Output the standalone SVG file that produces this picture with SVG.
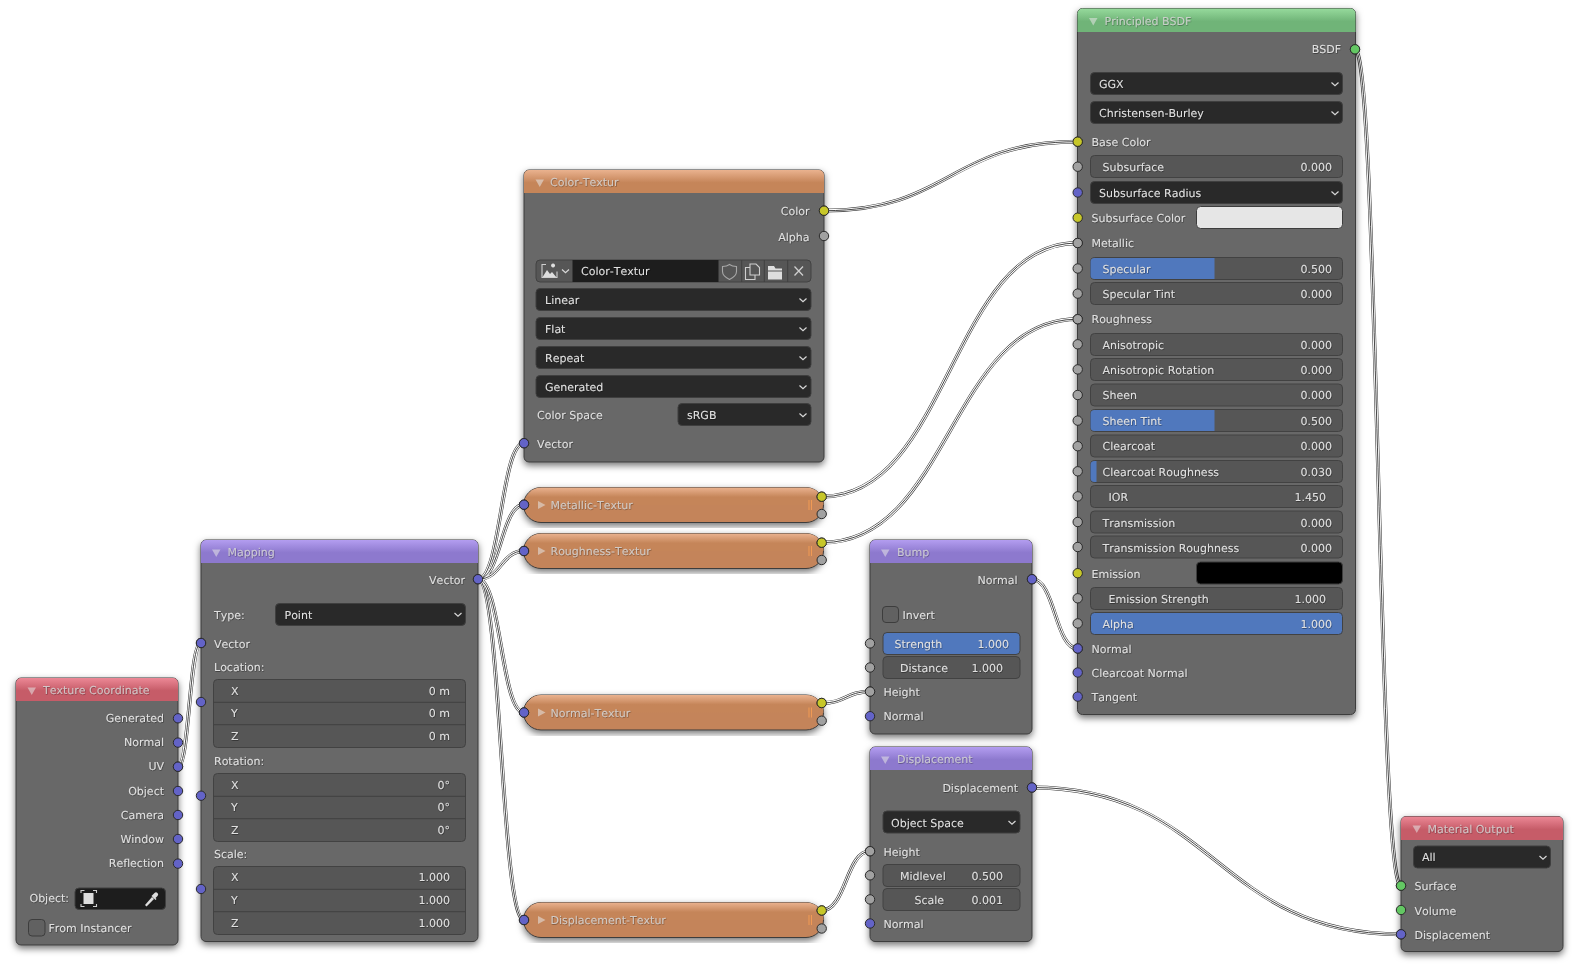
<svg xmlns="http://www.w3.org/2000/svg" width="1574" height="964" viewBox="0 0 1574 964">
<style>
text{font-family:"DejaVu Sans","Liberation Sans",sans-serif;font-size:11px;fill:#e0e0e0;filter:url(#ts);text-rendering:geometricPrecision;font-kerning:none}
.r{text-anchor:end}
.h{fill:#d6d6d6;fill-opacity:.85}
.n{fill:#676767;stroke:#3c3c3c;stroke-width:1;filter:url(#sh)}
.d{fill:#292929;stroke:#3f3f3f;stroke-width:1}
.f{fill:#565656;stroke:#424242;stroke-width:1}
.b{fill:#5078bd}
.sep{stroke:#404040;stroke-width:1;fill:none}
.s{stroke:#2b2b2b;stroke-width:1}
.y{fill:#c7c729}.g{fill:#a1a1a1}.v{fill:#6363c7}.e{fill:#63c763}
.w0{fill:none;stroke:#333;stroke-width:3.8}
.w1{fill:none;stroke:#fff;stroke-width:2.8}
.w2{fill:none;stroke:#333;stroke-width:.9}
.tri{fill:#e6e6e6;fill-opacity:.55}
.chev{fill:none;stroke:#d8d8d8;stroke-width:1.2}
.ic{fill:none;stroke:#cfcfcf;stroke-width:1.1}
.icf{fill:#dedede}
.cb{fill:none;stroke:#f09a55;stroke-width:1}
</style>
<defs>
<filter id="sh" x="-15%" y="-15%" width="130%" height="130%"><feDropShadow dx="0" dy="3" stdDeviation="3.5" flood-color="#000" flood-opacity=".55"/></filter>
<filter id="ts" x="-5%" y="-20%" width="110%" height="150%"><feDropShadow dx="0.5" dy="0.7" stdDeviation="0.4" flood-color="#000" flood-opacity=".5"/></filter>
<linearGradient id="ho" x1="0" y1="0" x2="0" y2="1"><stop offset="0" stop-color="#eab28f"/><stop offset=".55" stop-color="#c58559"/></linearGradient>
<linearGradient id="hr" x1="0" y1="0" x2="0" y2="1"><stop offset="0" stop-color="#ec8896"/><stop offset=".55" stop-color="#c65c68"/></linearGradient>
<linearGradient id="hp" x1="0" y1="0" x2="0" y2="1"><stop offset="0" stop-color="#b39df0"/><stop offset=".55" stop-color="#8d79ce"/></linearGradient>
<linearGradient id="hg" x1="0" y1="0" x2="0" y2="1"><stop offset="0" stop-color="#96da9c"/><stop offset=".55" stop-color="#70b478"/></linearGradient>
<path id="chv" class="chev" d="M-3.5-1.500 0 1.800 3.500-1.500"/>
<path id="p1" d="M178 766.700C189.300 766.700 189.300 643 201 643"/>
<path id="p2" d="M478 579.200C501 579.200 501 443.200 524 443.200"/>
<path id="p3" d="M478 579.200C501 579.200 501 504.700 524 504.700"/>
<path id="p4" d="M478 579.200C501 579.200 501 551 524 551"/>
<path id="p5" d="M478 579.200C501 579.200 501 712.500 524 712.500"/>
<path id="p6" d="M478 579.200C501 579.200 501 920 524 920"/>
<path id="p7" d="M824 210.700C950 210.700 950 141.700 1077.700 141.700"/>
<path id="p8" d="M821.700 496.700C950 496.700 950 243 1077.700 243"/>
<path id="p9" d="M821.700 542.700C950 542.700 950 319.200 1077.700 319.200"/>
<path id="p10" d="M821.700 703C846 703 846 691.600 870 691.600"/>
<path id="p11" d="M1032 579.200C1055 579.200 1055 648.500 1077.700 648.500"/>
<path id="p12" d="M821.700 910.500C846 910.500 846 851.200 870 851.200"/>
<path id="p13" d="M1032 787.500C1216 787.500 1216 934.300 1401 934.300"/>
<path id="p14" d="M1355 49.300C1378 49.300 1378 885.700 1401 885.700"/>
</defs>
<rect width="1574" height="964" fill="#fff"/>

<g id="node-texture-coordinate">
<rect class="n" x="16" y="678" width="162" height="267" rx="5"/>
<path d="M16 701V683a5 5 0 0 1 5-5H173a5 5 0 0 1 5 5V701Z" fill="url(#hr)"/>
<path class="tri" d="M27.500 687.500h8.500l-4.250 7.500Z"/>
<text class="h" x="43" y="694">Texture Coordinate</text>
<text class="r" x="164" y="722">Generated</text>
<text class="r" x="164" y="746">Normal</text>
<text class="r" x="164" y="770">UV</text>
<text class="r" x="164" y="795">Object</text>
<text class="r" x="164" y="819">Camera</text>
<text class="r" x="164" y="843">Window</text>
<text class="r" x="164" y="867">Reflection</text>
<text class="r" x="69" y="902">Object:</text>
<rect class="d" x="75" y="888" width="90.500" height="21.500" rx="4" style="fill:#1d1d1d"/>
<path class="ic" d="M81 893v-2.500h3.500M93 890.500h3.500v2.500M96.500 904v2.500h-3.500M84.500 906.500h-3.500v-2.500"/>
<rect class="icf" x="83.500" y="893" width="10" height="11"/>
<path class="icf" d="M146 906l-1-1 7-8 2 2-7.500 7.500ZM152.500 895l2-2a2 2 0 0 1 3 3l-2 2 1 1-1 1-4-4 1-1Z"/>
<rect x="28.500" y="919.500" width="16.500" height="16.500" rx="3.500" fill="#616161" stroke="#3d3d3d"/>
<text x="48.500" y="932">From Instancer</text>
<circle class="s v" cx="178" cy="718.300" r="4.700"/>
<circle class="s v" cx="178" cy="742.600" r="4.700"/>
<circle class="s v" cx="178" cy="766.700" r="4.700"/>
<circle class="s v" cx="178" cy="791" r="4.700"/>
<circle class="s v" cx="178" cy="815" r="4.700"/>
<circle class="s v" cx="178" cy="839" r="4.700"/>
<circle class="s v" cx="178" cy="863.600" r="4.700"/>
</g>

<g id="node-mapping">
<rect class="n" x="201" y="540" width="277" height="401.500" rx="5"/>
<path d="M201 563V545a5 5 0 0 1 5-5H473a5 5 0 0 1 5 5V563Z" fill="url(#hp)"/>
<path class="tri" d="M212 549.500h8.500l-4.250 7.500Z"/>
<text class="h" x="227.500" y="556">Mapping</text>
<text class="r" x="465" y="583.500">Vector</text>
<text x="214" y="619">Type:</text>
<rect class="d" x="275.500" y="603.500" width="190" height="22" rx="4"/>
<text x="284.500" y="619">Point</text>
<use href="#chv" x="458" y="614.500"/>
<text x="214" y="647.500">Vector</text>
<text x="214" y="671">Location:</text>
<rect class="f" x="213.500" y="679.500" width="252" height="68" rx="4"/>
<path class="sep" d="M213.500 702.300h252M213.500 724.700h252"/>
<text x="231" y="695">X</text><text class="r" x="450" y="695">0 m</text>
<text x="231" y="717">Y</text><text class="r" x="450" y="717">0 m</text>
<text x="231" y="740">Z</text><text class="r" x="450" y="740">0 m</text>
<text x="214" y="765">Rotation:</text>
<rect class="f" x="213.500" y="773.500" width="252" height="68" rx="4"/>
<path class="sep" d="M213.500 796.300h252M213.500 818.700h252"/>
<text x="231" y="789">X</text><text class="r" x="450" y="789">0°</text>
<text x="231" y="811">Y</text><text class="r" x="450" y="811">0°</text>
<text x="231" y="834">Z</text><text class="r" x="450" y="834">0°</text>
<text x="214" y="858">Scale:</text>
<rect class="f" x="213.500" y="866.500" width="252" height="68" rx="4"/>
<path class="sep" d="M213.500 889.300h252M213.500 911.700h252"/>
<text x="231" y="881">X</text><text class="r" x="450" y="881">1.000</text>
<text x="231" y="904">Y</text><text class="r" x="450" y="904">1.000</text>
<text x="231" y="926.500">Z</text><text class="r" x="450" y="926.500">1.000</text>
<circle class="s v" cx="478" cy="579.200" r="4.700"/>
<circle class="s v" cx="201" cy="643" r="4.700"/>
<circle class="s v" cx="201" cy="702" r="4.700"/>
<circle class="s v" cx="201" cy="795.700" r="4.700"/>
<circle class="s v" cx="201" cy="889" r="4.700"/>
</g>

<g id="node-color-textur">
<rect class="n" x="524" y="170" width="300" height="292" rx="5"/>
<path d="M524 193V175a5 5 0 0 1 5-5H819a5 5 0 0 1 5 5V193Z" fill="url(#ho)"/>
<path class="tri" d="M535.500 179.500h8.500l-4.250 7.500Z"/>
<text class="h" x="550" y="186">Color-Textur</text>
<text class="r" x="809.500" y="215">Color</text>
<text class="r" x="809.500" y="240.500">Alpha</text>
<rect class="f" x="536" y="260" width="275" height="22" rx="4"/>
<rect x="572.500" y="260" width="146" height="22" fill="#1d1d1d"/>
<path class="sep" d="M741.700 260v22M764.300 260v22M787.700 260v22"/>
<path class="icf" d="M542 278l5-8 3 4 2-2 5 6ZM553 263.500a2 2 0 1 0 .1 0Z"/>
<path class="ic" d="M546 264.500h-4v13h15v-6"/>
<use href="#chv" x="565.500" y="271"/>
<path d="M729.500 264.500c2 1.500 4.500 2 7 2v5c0 4-3 6-7 8-4-2-7-4-7-8v-5c2.500 0 5-.5 7-2Z" fill="none" stroke="#a8a8a8" stroke-width="1.100"/>
<path class="ic" d="M750 267.500h-4.500v12h9.500v-4M750 275v-11h6l3.500 3.500v7.500Z"/>
<path class="icf" d="M768 266h6l1.500 2.500h6.500v2h-14ZM768 271.500h14v8h-14Z"/>
<path class="ic" d="M794.500 266.500l8.500 9M803 266.500l-8.500 9" style="stroke-width:1.300"/>
<text x="581" y="274.500">Color-Textur</text>
<rect class="d" x="536" y="288.500" width="275" height="22" rx="4"/><text x="545" y="303.500">Linear</text><use href="#chv" x="803" y="300"/>
<rect class="d" x="536" y="317.500" width="275" height="22" rx="4"/><text x="545" y="332.500">Flat</text><use href="#chv" x="803" y="329"/>
<rect class="d" x="536" y="346.500" width="275" height="22" rx="4"/><text x="545" y="361.500">Repeat</text><use href="#chv" x="803" y="358"/>
<rect class="d" x="536" y="375.500" width="275" height="22" rx="4"/><text x="545" y="390.500">Generated</text><use href="#chv" x="803" y="387"/>
<text x="537" y="418.500">Color Space</text>
<rect class="d" x="678" y="403.500" width="133" height="22" rx="4"/><text x="687" y="418.500">sRGB</text><use href="#chv" x="803" y="415"/>
<text x="537" y="447.500">Vector</text>
<circle class="s y" cx="824" cy="210.700" r="4.700"/>
<circle class="s g" cx="824" cy="236" r="4.700"/>
<circle class="s v" cx="524" cy="443.200" r="4.700"/>
</g>

<g id="node-metallic-textur">
<rect class="n" x="523.500" y="487.500" width="300" height="35" rx="17.500" style="fill:#c4845a"/>
<path d="M524 505a17.500 17.500 0 0 1 17.500-17.500H806a17.500 17.500 0 0 1 17.500 17.500Z" fill="url(#ho)"/>
<path class="tri" d="M538 501v8l7.500-4Z"/>
<text class="h" x="550.500" y="509">Metallic-Textur</text>
<path class="cb" d="M809 500v10M811.500 500v10"/>
<circle class="s v" cx="524" cy="504.700" r="4.700"/>
<circle class="s y" cx="821.700" cy="496.700" r="4.700"/>
<circle class="s g" cx="821.700" cy="514" r="4.700"/>
</g>

<g id="node-roughness-textur">
<rect class="n" x="523.500" y="533.500" width="300" height="35" rx="17.500" style="fill:#c4845a"/>
<path d="M524 551a17.500 17.500 0 0 1 17.500-17.500H806a17.500 17.500 0 0 1 17.500 17.500Z" fill="url(#ho)"/>
<path class="tri" d="M538 547v8l7.500-4Z"/>
<text class="h" x="550.500" y="555">Roughness-Textur</text>
<path class="cb" d="M809 546v10M811.500 546v10"/>
<circle class="s v" cx="524" cy="551" r="4.700"/>
<circle class="s y" cx="821.700" cy="542.700" r="4.700"/>
<circle class="s g" cx="821.700" cy="560" r="4.700"/>
</g>

<g id="node-normal-textur">
<rect class="n" x="523.500" y="695" width="300" height="35" rx="17.500" style="fill:#c4845a"/>
<path d="M524 712.500a17.500 17.500 0 0 1 17.500-17.500H806a17.500 17.500 0 0 1 17.500 17.500Z" fill="url(#ho)"/>
<path class="tri" d="M538 708.500v8l7.500-4Z"/>
<text class="h" x="550.500" y="716.500">Normal-Textur</text>
<path class="cb" d="M809 707.500v10M811.500 707.500v10"/>
<circle class="s v" cx="524" cy="712.500" r="4.700"/>
<circle class="s y" cx="821.700" cy="703" r="4.700"/>
<circle class="s g" cx="821.700" cy="720.700" r="4.700"/>
</g>

<g id="node-displacement-textur">
<rect class="n" x="523.500" y="902.500" width="300" height="35" rx="17.500" style="fill:#c4845a"/>
<path d="M524 920a17.500 17.500 0 0 1 17.500-17.500H806a17.500 17.500 0 0 1 17.500 17.500Z" fill="url(#ho)"/>
<path class="tri" d="M538 916v8l7.500-4Z"/>
<text class="h" x="550.500" y="924">Displacement-Textur</text>
<path class="cb" d="M809 915v10M811.500 915v10"/>
<circle class="s v" cx="524" cy="920" r="4.700"/>
<circle class="s y" cx="821.700" cy="910.500" r="4.700"/>
<circle class="s g" cx="821.700" cy="928.500" r="4.700"/>
</g>

<g id="node-bump">
<rect class="n" x="870" y="540" width="162" height="194" rx="5"/>
<path d="M870 563V545a5 5 0 0 1 5-5H1027a5 5 0 0 1 5 5V563Z" fill="url(#hp)"/>
<path class="tri" d="M881 549.500h8.500l-4.250 7.500Z"/>
<text class="h" x="897" y="556">Bump</text>
<text class="r" x="1017.500" y="583.500">Normal</text>
<rect x="882.500" y="606.500" width="16" height="16" rx="3.500" fill="#616161" stroke="#3d3d3d"/>
<text x="902.500" y="618.500">Invert</text>
<rect class="b" x="883" y="632.500" width="137" height="22" rx="4" stroke="#424242"/>
<text x="894.500" y="647.500">Strength</text><text class="r" x="1009" y="647.500">1.000</text>
<rect class="f" x="883" y="656.500" width="137" height="22" rx="4"/>
<text x="900" y="671.500">Distance</text><text class="r" x="1003" y="671.500">1.000</text>
<text x="883.500" y="696">Height</text>
<text x="883.500" y="720">Normal</text>
<circle class="s v" cx="1032" cy="579.200" r="4.700"/>
<circle class="s g" cx="870" cy="643.400" r="4.700"/>
<circle class="s g" cx="870" cy="667.500" r="4.700"/>
<circle class="s g" cx="870" cy="691.600" r="4.700"/>
<circle class="s v" cx="870" cy="716.200" r="4.700"/>
</g>

<g id="node-displacement">
<rect class="n" x="870" y="747" width="162" height="194.500" rx="5"/>
<path d="M870 770V752a5 5 0 0 1 5-5H1027a5 5 0 0 1 5 5V770Z" fill="url(#hp)"/>
<path class="tri" d="M881 756.500h8.500l-4.250 7.500Z"/>
<text class="h" x="897" y="763">Displacement</text>
<text class="r" x="1018" y="792">Displacement</text>
<rect class="d" x="883" y="811" width="137" height="22" rx="4"/>
<text x="891" y="826.500">Object Space</text><use href="#chv" x="1012" y="822.500"/>
<text x="883.500" y="855.500">Height</text>
<rect class="f" x="883" y="864.500" width="137" height="22" rx="4"/>
<text x="900" y="879.500">Midlevel</text><text class="r" x="1003" y="879.500">0.500</text>
<rect class="f" x="883" y="888.500" width="137" height="22" rx="4"/>
<text x="914.500" y="903.500">Scale</text><text class="r" x="1003" y="903.500">0.001</text>
<text x="883.500" y="927.500">Normal</text>
<circle class="s v" cx="1032" cy="787.500" r="4.700"/>
<circle class="s g" cx="870" cy="851.200" r="4.700"/>
<circle class="s g" cx="870" cy="875.300" r="4.700"/>
<circle class="s g" cx="870" cy="899.400" r="4.700"/>
<circle class="s v" cx="870" cy="923.500" r="4.700"/>
</g>

<g id="node-principled-bsdf">
<rect class="n" x="1077.500" y="8.500" width="278" height="706" rx="5"/>
<path d="M1077.500 32V13.500a5 5 0 0 1 5-5H1350.500a5 5 0 0 1 5 5V32Z" fill="url(#hg)"/>
<path class="tri" d="M1089 18h8.500l-4.250 7.500Z"/>
<text class="h" x="1104.500" y="25">Principled BSDF</text>
<text class="r" x="1341" y="53">BSDF</text>
<rect class="d" x="1090.500" y="72.500" width="252" height="22" rx="4"/><text x="1099" y="87.500">GGX</text><use href="#chv" x="1335" y="84"/>
<rect class="d" x="1090.500" y="101.500" width="252" height="22" rx="4"/><text x="1099" y="116.500">Christensen-Burley</text><use href="#chv" x="1335" y="113"/>
<text x="1091.500" y="145.500">Base Color</text>
<rect class="f" x="1090.500" y="155.500" width="252" height="22" rx="4"/><text x="1102.500" y="170.500">Subsurface</text><text class="r" x="1332" y="170.500">0.000</text>
<rect class="d" x="1090.500" y="181.500" width="252" height="22" rx="4"/><text x="1099" y="196.500">Subsurface Radius</text><use href="#chv" x="1335" y="193"/>
<text x="1091.500" y="221.500">Subsurface Color</text>
<rect x="1196.500" y="206.500" width="146" height="22" rx="4" fill="#e6e6e6" stroke="#3d3d3d"/>
<text x="1091.500" y="247">Metallic</text>
<rect class="f" x="1090.500" y="257.500" width="252" height="22" rx="4"/><path class="b" d="M1214.500 258H1094.500a4 4 0 0 0-4 4V275a4 4 0 0 0 4 4H1214.500Z"/><text x="1102.500" y="272.500">Specular</text><text class="r" x="1332" y="272.500">0.500</text>
<rect class="f" x="1090.500" y="282.500" width="252" height="22" rx="4"/><text x="1102.500" y="297.500">Specular Tint</text><text class="r" x="1332" y="297.500">0.000</text>
<text x="1091.500" y="323">Roughness</text>
<rect class="f" x="1090.500" y="333.500" width="252" height="22" rx="4"/><text x="1102.500" y="348.500">Anisotropic</text><text class="r" x="1332" y="348.500">0.000</text>
<rect class="f" x="1090.500" y="358.500" width="252" height="22" rx="4"/><text x="1102.500" y="373.500">Anisotropic Rotation</text><text class="r" x="1332" y="373.500">0.000</text>
<rect class="f" x="1090.500" y="384" width="252" height="22" rx="4"/><text x="1102.500" y="399">Sheen</text><text class="r" x="1332" y="399">0.000</text>
<rect class="f" x="1090.500" y="409.500" width="252" height="22" rx="4"/><path class="b" d="M1214.500 410H1094.500a4 4 0 0 0-4 4V427a4 4 0 0 0 4 4H1214.500Z"/><text x="1102.500" y="424.500">Sheen Tint</text><text class="r" x="1332" y="424.500">0.500</text>
<rect class="f" x="1090.500" y="435" width="252" height="22" rx="4"/><text x="1102.500" y="450">Clearcoat</text><text class="r" x="1332" y="450">0.000</text>
<rect class="f" x="1090.500" y="460.500" width="252" height="22" rx="4"/><path class="b" d="M1096.500 461H1094.500a4 4 0 0 0-4 4V478a4 4 0 0 0 4 4H1096.500Z"/><text x="1102.500" y="475.500">Clearcoat Roughness</text><text class="r" x="1332" y="475.500">0.030</text>
<rect class="f" x="1090.500" y="485.500" width="252" height="22" rx="4"/><text x="1108.500" y="500.500">IOR</text><text class="r" x="1326" y="500.500">1.450</text>
<rect class="f" x="1090.500" y="511" width="252" height="22" rx="4"/><text x="1102.500" y="526.500">Transmission</text><text class="r" x="1332" y="526.500">0.000</text>
<rect class="f" x="1090.500" y="536" width="252" height="22" rx="4"/><text x="1102.500" y="551.500">Transmission Roughness</text><text class="r" x="1332" y="551.500">0.000</text>
<text x="1091.500" y="577.500">Emission</text>
<rect x="1196.500" y="562" width="146" height="22" rx="4" fill="#000" stroke="#3d3d3d"/>
<rect class="f" x="1090.500" y="587.500" width="252" height="22" rx="4"/><text x="1108.500" y="602.500">Emission Strength</text><text class="r" x="1326" y="602.500">1.000</text>
<rect class="b" x="1090.500" y="612.500" width="252" height="22" rx="4" stroke="#424242"/><text x="1102.500" y="627.500">Alpha</text><text class="r" x="1332" y="627.500">1.000</text>
<text x="1091.500" y="652.500">Normal</text>
<text x="1091.500" y="676.500">Clearcoat Normal</text>
<text x="1091.500" y="700.500">Tangent</text>
<circle class="s e" cx="1355" cy="49.300" r="4.700"/>
<circle class="s y" cx="1077.700" cy="141.700" r="4.700"/>
<circle class="s g" cx="1077.700" cy="166.700" r="4.700"/>
<circle class="s v" cx="1077.700" cy="192.500" r="4.700"/>
<circle class="s y" cx="1077.700" cy="217.700" r="4.700"/>
<circle class="s g" cx="1077.700" cy="243" r="4.700"/>
<circle class="s g" cx="1077.700" cy="268.500" r="4.700"/>
<circle class="s g" cx="1077.700" cy="293.600" r="4.700"/>
<circle class="s g" cx="1077.700" cy="319.200" r="4.700"/>
<circle class="s g" cx="1077.700" cy="344.300" r="4.700"/>
<circle class="s g" cx="1077.700" cy="369.400" r="4.700"/>
<circle class="s g" cx="1077.700" cy="395" r="4.700"/>
<circle class="s g" cx="1077.700" cy="420.600" r="4.700"/>
<circle class="s g" cx="1077.700" cy="446.200" r="4.700"/>
<circle class="s g" cx="1077.700" cy="471.300" r="4.700"/>
<circle class="s g" cx="1077.700" cy="496.400" r="4.700"/>
<circle class="s g" cx="1077.700" cy="522" r="4.700"/>
<circle class="s g" cx="1077.700" cy="547" r="4.700"/>
<circle class="s y" cx="1077.700" cy="573.200" r="4.700"/>
<circle class="s g" cx="1077.700" cy="598.300" r="4.700"/>
<circle class="s g" cx="1077.700" cy="623.400" r="4.700"/>
<circle class="s v" cx="1077.700" cy="648.500" r="4.700"/>
<circle class="s v" cx="1077.700" cy="672.500" r="4.700"/>
<circle class="s v" cx="1077.700" cy="696.600" r="4.700"/>
</g>

<g id="node-material-output">
<rect class="n" x="1401" y="816.500" width="162" height="135" rx="5"/>
<path d="M1401 840V821.500a5 5 0 0 1 5-5H1558a5 5 0 0 1 5 5V840Z" fill="url(#hr)"/>
<path class="tri" d="M1412.500 825.500h8.500l-4.250 7.500Z"/>
<text class="h" x="1427.500" y="833">Material Output</text>
<rect class="d" x="1413.500" y="846" width="137" height="22" rx="4"/>
<text x="1422" y="861">All</text><use href="#chv" x="1543" y="857.500"/>
<text x="1414.500" y="890">Surface</text>
<text x="1414.500" y="914.500">Volume</text>
<text x="1414.500" y="938.500">Displacement</text>
<circle class="s e" cx="1401" cy="885.700" r="4.700"/>
<circle class="s e" cx="1401" cy="910" r="4.700"/>
<circle class="s v" cx="1401" cy="934.300" r="4.700"/>
</g>

<g id="connectors">
<g class="w0"><use href="#p1"/><use href="#p2"/><use href="#p3"/><use href="#p4"/><use href="#p5"/><use href="#p6"/><use href="#p7"/><use href="#p8"/><use href="#p9"/><use href="#p10"/><use href="#p11"/><use href="#p12"/><use href="#p13"/><use href="#p14"/></g>
<g class="w1"><use href="#p1"/><use href="#p2"/><use href="#p3"/><use href="#p4"/><use href="#p5"/><use href="#p6"/><use href="#p7"/><use href="#p8"/><use href="#p9"/><use href="#p10"/><use href="#p11"/><use href="#p12"/><use href="#p13"/><use href="#p14"/></g>
<g class="w2"><use href="#p1"/><use href="#p2"/><use href="#p3"/><use href="#p4"/><use href="#p5"/><use href="#p6"/><use href="#p7"/><use href="#p8"/><use href="#p9"/><use href="#p10"/><use href="#p11"/><use href="#p12"/><use href="#p13"/><use href="#p14"/></g>
</g>

<g id="socket-overlay">
<circle class="s v" cx="178" cy="766.700" r="4.700"/>
<circle class="s v" cx="201" cy="643" r="4.700"/>
<circle class="s v" cx="478" cy="579.200" r="4.700"/>
<circle class="s v" cx="524" cy="443.200" r="4.700"/>
<circle class="s v" cx="524" cy="504.700" r="4.700"/>
<circle class="s v" cx="524" cy="551" r="4.700"/>
<circle class="s v" cx="524" cy="712.500" r="4.700"/>
<circle class="s v" cx="524" cy="920" r="4.700"/>
<circle class="s y" cx="824" cy="210.700" r="4.700"/>
<circle class="s y" cx="821.700" cy="496.700" r="4.700"/>
<circle class="s y" cx="821.700" cy="542.700" r="4.700"/>
<circle class="s y" cx="821.700" cy="703" r="4.700"/>
<circle class="s y" cx="821.700" cy="910.500" r="4.700"/>
<circle class="s y" cx="1077.700" cy="141.700" r="4.700"/>
<circle class="s g" cx="1077.700" cy="243" r="4.700"/>
<circle class="s g" cx="1077.700" cy="319.200" r="4.700"/>
<circle class="s g" cx="870" cy="691.600" r="4.700"/>
<circle class="s v" cx="1032" cy="579.200" r="4.700"/>
<circle class="s v" cx="1077.700" cy="648.500" r="4.700"/>
<circle class="s g" cx="870" cy="851.200" r="4.700"/>
<circle class="s v" cx="1032" cy="787.500" r="4.700"/>
<circle class="s v" cx="1401" cy="934.300" r="4.700"/>
<circle class="s e" cx="1355" cy="49.300" r="4.700"/>
<circle class="s e" cx="1401" cy="885.700" r="4.700"/>
</g>
</svg>
